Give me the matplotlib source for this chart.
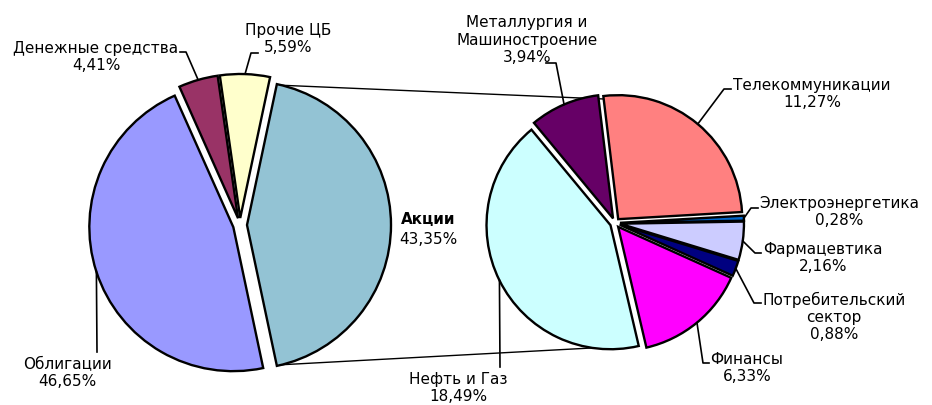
import numpy as np
import matplotlib.pyplot as plt

# first pie: portfolio structure
main_labels = ["Акции", "Прочие ЦБ", "Денежные средства", "Облигации"]
main_values = [43.35, 5.59, 4.41, 46.65]
main_colors = ["#93C3D4", "#FFFFCC", "#993366", "#9999FF"]

# second pie: shares by sector
sub_labels = ["Телекоммуникации", "Металлургия и\nМашиностроение", "Нефть и Газ",
              "Финансы", "Потребительский\nсектор", "Фармацевтика", "Электроэнергетика"]
sub_values = [11.27, 3.94, 18.49, 6.33, 0.88, 2.16, 0.28]
sub_colors = ["#FF8080", "#660066", "#CCFFFF", "#FF00FF", "#000080", "#CCCCFF", "#0066CC"]

W, H = 932, 405
fig = plt.figure(figsize=(W / 100, H / 100), dpi=100)
ax = fig.add_axes([0, 0, 1, 1])

FS = 11
edge = dict(edgecolor="black", linewidth=1.7)

# left pie, "Акции" centred on the right side (explode is in px here)
c1, r1 = (240, H - 225), 144
start1 = -main_values[0] * 3.6 / 2
w1, _ = ax.pie(main_values, colors=main_colors, startangle=start1, counterclock=True,
               explode=[7] * 4, center=c1, radius=r1, wedgeprops=edge, normalize=True)

c2, r2 = (615, H - 223), 124
w2, _ = ax.pie(sub_values, colors=sub_colors, startangle=3.3, counterclock=True,
               explode=[5] * 7, center=c2, radius=r2, wedgeprops=edge, normalize=True)

ax.set_xlim(0, W)
ax.set_ylim(0, H)
ax.set_aspect("equal")
ax.axis("off")


def arc_point(w, ang=None):
    if ang is None:
        ang = (w.theta1 + w.theta2) / 2
    cx, cy = w.center
    a = np.radians(ang)
    return cx + w.r * np.cos(a), cy + w.r * np.sin(a)


# connector lines between the pies
ak = w1[0]
for a1, a2 in [(ak.theta2 - 2, 82), (ak.theta1 + 2, -82)]:
    p1 = arc_point(ak, a1)
    a = np.radians(a2)
    p2 = (c2[0] + r2 * np.cos(a), c2[1] + r2 * np.sin(a))
    ax.plot([p1[0], p2[0]], [p1[1], p2[1]], color="black", lw=1.0, zorder=0)

# label text centres (px, from top) and leader elbows
main_pos = [(428, 229), (288, 39), (96, 57), (67, 373)]
main_lead = [None, [(258, 53), (251, 53)], [(180, 52), (186, 52)], [(97, 352)]]
sub_pos = [(812, 94), (527, 40), (458, 388), (747, 368), (834, 317), (823, 258), (839, 212)]
sub_lead = [[(731, 89), (724, 89)], [(546, 63), (556, 63)], [(500, 367)],
            [(709, 363), (703, 363)], [(761, 303), (754, 303)],
            [(761, 253), (755, 253)], [(758, 208), (751, 208)]]


def fmt(v):
    return f"{v:.2f}".replace(".", ",") + "%"


def put_labels(wedges, labels, values, pos, leads):
    for w, lab, v, (x, y), lead in zip(wedges, labels, values, pos, leads):
        if lab == "Акции":
            ax.text(x, H - y + 9, lab, ha="center", va="center", fontsize=FS, fontweight="bold")
            ax.text(x, H - y - 10, fmt(v), ha="center", va="center", fontsize=FS)
        else:
            ax.text(x, H - y, lab + "\n" + fmt(v), ha="center", va="center",
                    fontsize=FS, linespacing=1.2)
        if lead:
            px, py = arc_point(w)
            xs = [p[0] for p in lead] + [px]
            ys = [H - p[1] for p in lead] + [py]
            ax.plot(xs, ys, color="black", lw=1.2)


put_labels(w1, main_labels, main_values, main_pos, main_lead)
put_labels(w2, sub_labels, sub_values, sub_pos, sub_lead)

fig.savefig("out.png", dpi=100)
